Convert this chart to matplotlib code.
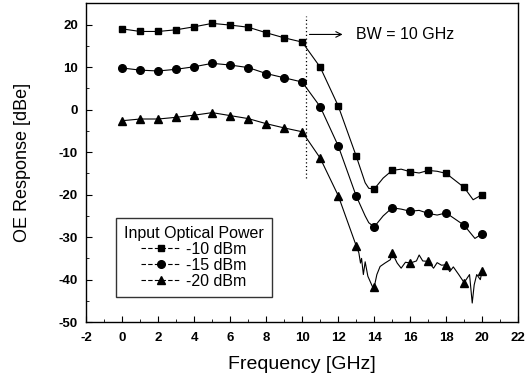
import matplotlib
matplotlib.use('Agg')
import matplotlib.pyplot as plt
from matplotlib.lines import Line2D
from matplotlib.ticker import MultipleLocator

plt.rcParams['font.family'] = ['Liberation Sans', 'DejaVu Sans']
plt.rcParams['axes.unicode_minus'] = False

# marker points, one per GHz
freq = [0, 1, 2, 3, 4, 5, 6, 7, 8, 9, 10, 11, 12, 13, 14, 15, 16, 17, 18, 19, 20]
p10 = [19.0, 18.4, 18.4, 18.8, 19.5, 20.3, 19.9, 19.4, 18.1, 16.9, 15.9,
       10.0, 0.9, -10.9, -18.7, -14.3, -14.6, -14.3, -15.0, -18.3, -20.0]
p15 = [9.8, 9.3, 9.1, 9.5, 10.1, 10.9, 10.5, 9.9, 8.5, 7.5, 6.5,
       0.7, -8.5, -20.3, -27.6, -23.1, -23.9, -24.4, -24.3, -27.2, -29.2]
p20 = [-2.6, -2.2, -2.2, -1.8, -1.3, -0.7, -1.4, -2.1, -3.3, -4.3, -5.2,
       -11.4, -20.2, -32.0, -41.8, -33.7, -36.1, -35.7, -36.5, -40.7, -37.9]

# extra readings of the measured traces between the markers
f10_extra = [13.5, 13.7, 14.5, 15.5, 16.5, 17.5, 19.5]
y10_extra = [-17.2, -18.5, -16.1, -14.0, -14.9, -14.5, -21.2]
f15_extra = [13.5, 13.7, 14.5, 15.5, 16.5, 17.5, 19.6]
y15_extra = [-25.0, -26.6, -25.0, -23.4, -23.7, -24.8, -30.3]
f20_extra = [13.15, 13.24, 13.3, 13.4, 13.5, 13.65, 13.9, 14.15, 14.33, 14.6, 14.9,
             15.28, 15.5, 15.74, 16.35, 16.5, 16.7, 17.3, 17.5, 17.74,
             18.2, 18.4, 18.7, 19.3, 19.45, 19.56, 19.7, 19.9]
y20_extra = [-33.7, -36.1, -35.0, -38.8, -35.8, -39.2, -41.6, -38.8, -36.9, -36.1, -35.3,
             -36.1, -37.3, -35.9, -35.6, -34.2, -35.6, -37.3, -36.0, -36.6,
             -38.1, -37.0, -38.8, -38.8, -45.5, -41.2, -38.8, -40.0]

labels = ['-10 dBm', '-15 dBm', '-20 dBm']
markers = ['s', 'o', '^']
msizes = [4.5, 5.5, 6]


def trace(fx, fy, ex, ey):
    pts = sorted(zip(list(fx) + list(ex), list(fy) + list(ey)))
    return [p[0] for p in pts], [p[1] for p in pts]


fig = plt.figure(figsize=(5.26, 3.79), dpi=100)
ax = fig.add_axes([0.164, 0.150, 0.821, 0.841])

series = [(p10, f10_extra, y10_extra), (p15, f15_extra, y15_extra), (p20, f20_extra, y20_extra)]
for (vals, ex, ey), m, ms in zip(series, markers, msizes):
    tx, ty = trace(freq, vals, ex, ey)
    ax.plot(tx, ty, color='black', lw=0.8)
    ax.plot(freq, vals, ls='none', marker=m, ms=ms, color='black')

# bandwidth marker
ax.plot([10.2, 10.2], [-16, 22], color='black', ls=(0, (1, 2)), lw=0.9)
ax.annotate('', xy=(12.4, 17.7), xytext=(10.25, 17.7),
            arrowprops=dict(arrowstyle='->', color='black', lw=0.8))
ax.text(13.0, 17.7, 'BW = 10 GHz', fontsize=11.5, va='center', ha='left')

ax.set_xlim(-2, 22)
ax.set_ylim(-50, 25)
ax.xaxis.set_major_locator(MultipleLocator(2))
ax.xaxis.set_minor_locator(MultipleLocator(1))
ax.yaxis.set_major_locator(MultipleLocator(10))
ax.yaxis.set_minor_locator(MultipleLocator(5))
ax.tick_params(which='both', direction='in', top=False, right=False)
ax.tick_params(which='major', length=4, labelsize=9.5)
ax.tick_params(axis='x', which='major', pad=7)
ax.tick_params(axis='y', which='major', pad=6)
ax.tick_params(which='minor', length=2)
for t in ax.get_xticklabels() + ax.get_yticklabels():
    t.set_fontweight('bold')
for s in ax.spines.values():
    s.set_linewidth(1.0)

ax.set_xlabel('Frequency [GHz]', fontsize=14, labelpad=9)
ax.set_ylabel('OE Response [dBe]', fontsize=13, labelpad=20)

handles = [Line2D([], [], color='black', lw=0.8, ls=(0, (4, 2)), marker=m, ms=ms)
           for m, ms in zip(markers, msizes)]
leg = ax.legend(handles, labels, title='Input Optical Power', loc='lower left',
                bbox_to_anchor=(0.05, 0.055), fontsize=11.5, title_fontsize=11.5,
                frameon=True, fancybox=False, edgecolor='black', handlelength=2.5,
                handletextpad=0.3, labelspacing=0.05, borderpad=0.5)
leg.get_frame().set_linewidth(1.0)

fig.savefig('out.png', dpi=100)
